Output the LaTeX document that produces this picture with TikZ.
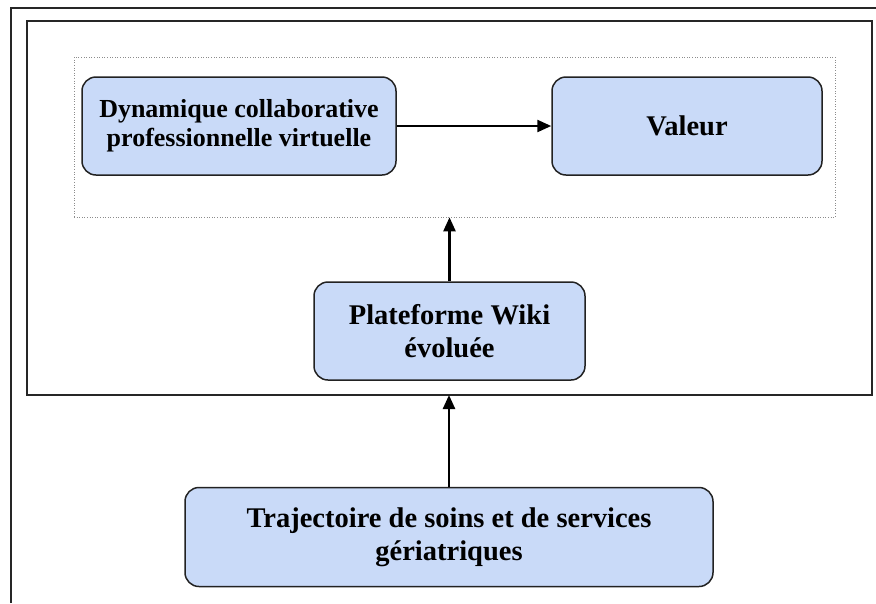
\documentclass[tikz,border=0pt]{standalone}
\usepackage{fontspec}
\setmainfont{Liberation Serif}[BoldFont={Liberation Serif Bold}]
\usetikzlibrary{arrows.meta}
\definecolor{boxfill}{HTML}{C9DAF8}
\definecolor{boxline}{HTML}{222222}
\begin{document}
\begin{tikzpicture}[x=1pt,y=-1pt,
  box/.style={draw=boxline,line width=1.5pt,fill=boxfill,rounded corners=14pt,
    align=center,font=\bfseries\fontsize{28.5}{33}\selectfont,inner sep=0pt},
  smalltext/.style={font=\bfseries\fontsize{26}{29}\selectfont},
  conn/.style={line width=2.4pt,-{Triangle[length=14pt,width=12pt]}}]
\useasboundingbox (0,0) rectangle (876,603);
% outer frame (open on right and bottom)
\draw[line width=1.6pt,black!85] (11,603) -- (11,8) -- (876,8);
% inner frame
\draw[line width=1.6pt,black!85] (27,21) rectangle (872,395);
% dotted group
\node[draw=black!45,dotted,line width=0.6pt,minimum width=761pt,minimum height=160pt,inner sep=0pt] (grp) at (454.5,137) {};
\node[box,smalltext,minimum width=314pt,minimum height=98pt] (dyn) at (239,126) {Dynamique collaborative\\professionnelle virtuelle};
\node[box,minimum width=270pt,minimum height=98pt] (val) at (687,126) {Valeur};
\node[box,minimum width=271pt,minimum height=98pt] (wiki) at (449.5,331) {Plateforme Wiki\\évoluée};
\node[box,minimum width=528pt,minimum height=99pt] (traj) at (449,537) {Trajectoire de soins et de services\\gériatriques};
\coordinate (ib) at (449,395);
\draw[conn] (dyn.east) -- (val.west);
\draw[conn] (wiki.north) -- (grp.south -| wiki.north);
\draw[conn] (traj.north) -- (ib);
\end{tikzpicture}
\end{document}
